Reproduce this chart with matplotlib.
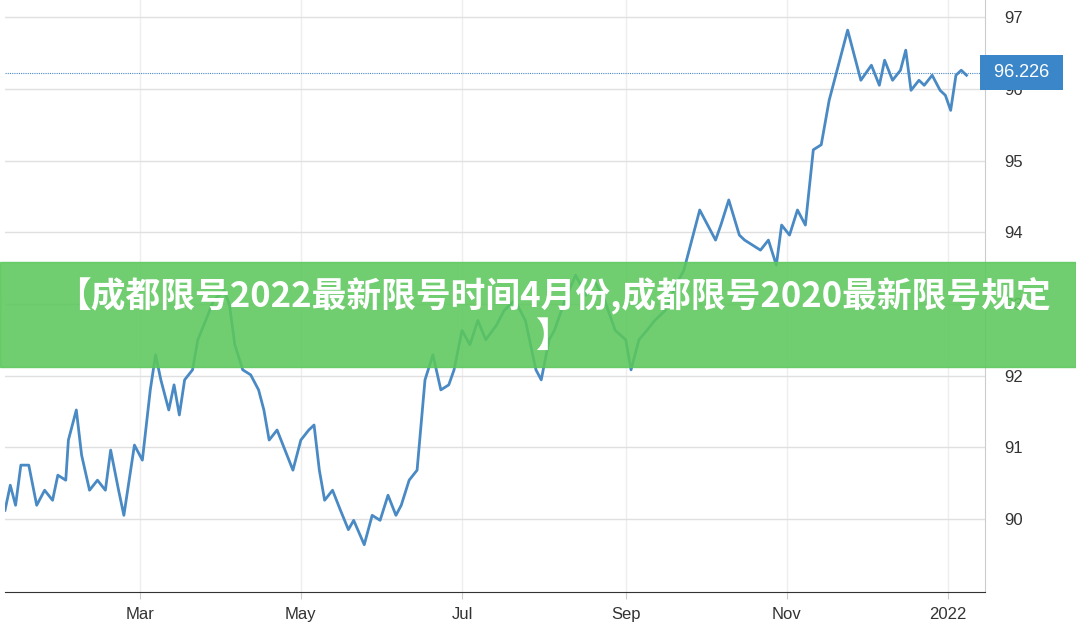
import matplotlib
matplotlib.use('Agg')
import matplotlib.pyplot as plt
from matplotlib.patches import Rectangle

# days since 2021-01-01
days = [8, 10, 12, 14, 17, 20, 23, 26, 28, 31, 32, 35, 37, 40, 43, 46, 48, 51, 53, 55,
        57, 60, 63, 65, 67, 70, 72, 74, 76, 79, 81, 84, 87, 91, 93, 95, 98, 101, 104, 106,
        108, 111, 114, 117, 120, 123, 125, 127, 129, 132, 135, 138, 140, 144, 147, 150, 153, 156, 158, 161,
        164, 167, 170, 173, 176, 178, 181, 184, 187, 190, 194, 197, 201, 205, 209, 211, 214, 216, 220, 224,
        228, 231, 235, 239, 243, 245, 248, 251, 254, 258, 262, 265, 268, 271, 274, 277, 279, 282, 286, 288,
        291, 294, 297, 300, 302, 305, 308, 311, 314, 317, 320, 322, 325, 327, 330, 332, 336, 339, 341, 344,
        347, 349, 351, 354, 356, 359, 362, 364, 366, 368, 370, 372]
values = [90.12, 90.47, 90.19, 90.75, 90.75, 90.19, 90.40, 90.26, 90.61, 90.54, 91.10, 91.52, 90.89, 90.40, 90.54, 90.40, 90.96, 90.40, 90.05, 90.54,
          91.03, 90.82, 91.80, 92.29, 91.94, 91.52, 91.87, 91.45, 91.94, 92.08, 92.50, 92.77, 93.05, 93.19, 92.98, 92.43, 92.08, 92.01, 91.80, 91.52,
          91.10, 91.24, 90.96, 90.68, 91.10, 91.24, 91.31, 90.68, 90.26, 90.40, 90.12, 89.85, 89.98, 89.64, 90.05, 89.98, 90.33, 90.05, 90.19, 90.54,
          90.68, 91.94, 92.29, 91.80, 91.87, 92.08, 92.63, 92.43, 92.77, 92.50, 92.70, 92.91, 93.05, 92.77, 92.08, 91.94, 92.50, 92.63, 93.05, 93.40,
          93.12, 93.33, 93.05, 92.63, 92.50, 92.08, 92.50, 92.63, 92.77, 92.91, 93.26, 93.47, 93.89, 94.31, 94.10, 93.89, 94.10, 94.45, 93.96, 93.89,
          93.82, 93.75, 93.89, 93.54, 94.10, 93.96, 94.31, 94.10, 95.15, 95.22, 95.84, 96.12, 96.54, 96.82, 96.40, 96.12, 96.33, 96.05, 96.40, 96.12,
          96.26, 96.54, 95.98, 96.12, 96.05, 96.19, 95.98, 95.91, 95.70, 96.19, 96.26, 96.19]
last_value = 96.226
tick_days = [59, 120, 181, 243, 304, 365]
tick_labels = ['Mar', 'May', 'Jul', 'Sep', 'Nov', '2022']
yticks = [90, 91, 92, 93, 94, 95, 96, 97]
title = '【成都限号2022最新限号时间4月份,成都限号2020最新限号规定\n】'

plt.rcParams['font.family'] = ['Noto Sans CJK SC', 'DejaVu Sans']
fig = plt.figure(figsize=(10.76, 6.28), dpi=100)
ax = fig.add_axes([5 / 1076, 36 / 628, 980 / 1076, 592 / 628])
ax.plot(days, values, color='#4a8ac4', lw=2)
ax.axhline(last_value, color='#4a8ac4', lw=0.8, ls=(0, (1, 1)))
ax.set_xlim(8, 379)
ax.set_ylim(88.98, 97.24)
ax.set_xticks(tick_days)
ax.set_xticklabels(tick_labels, family=['Liberation Sans'])
ax.set_yticks(yticks)
ax.set_yticklabels([str(t) for t in yticks], family=['Liberation Sans'])
ax.yaxis.tick_right()
ax.tick_params(axis='both', colors='#333333', labelsize=12, length=5)
ax.tick_params(axis='y', length=0, pad=14)
ax.tick_params(axis='x', color='#cccccc', pad=6)
ax.grid(axis='y', color='#e0e0e0', lw=1)
ax.grid(axis='x', color='#eeeeee', lw=1)
for s in ['top', 'left']:
    ax.spines[s].set_visible(False)
ax.spines['right'].set_color('#cccccc')
ax.spines['bottom'].set_color('#333333')

# last value label
ax.text(1.004, last_value, ' 96.226 ', transform=ax.get_yaxis_transform(), va='center', ha='left',
        color='white', fontsize=13, family=['Liberation Sans'],
        bbox=dict(boxstyle='square,pad=0.5', fc='#3a86c8', ec='none'))

# banner
fig.patches.append(Rectangle((0, 1 - 367 / 628), 1, 105 / 628, transform=fig.transFigure,
                             color='#5cc85c', alpha=0.88, zorder=5))
fig.text(0.514, 1 - 316 / 628, title, ha='center', va='center', color='white', fontsize=25,
         fontweight='bold', linespacing=1.15, zorder=6)

fig.savefig('out.png', dpi=100)
